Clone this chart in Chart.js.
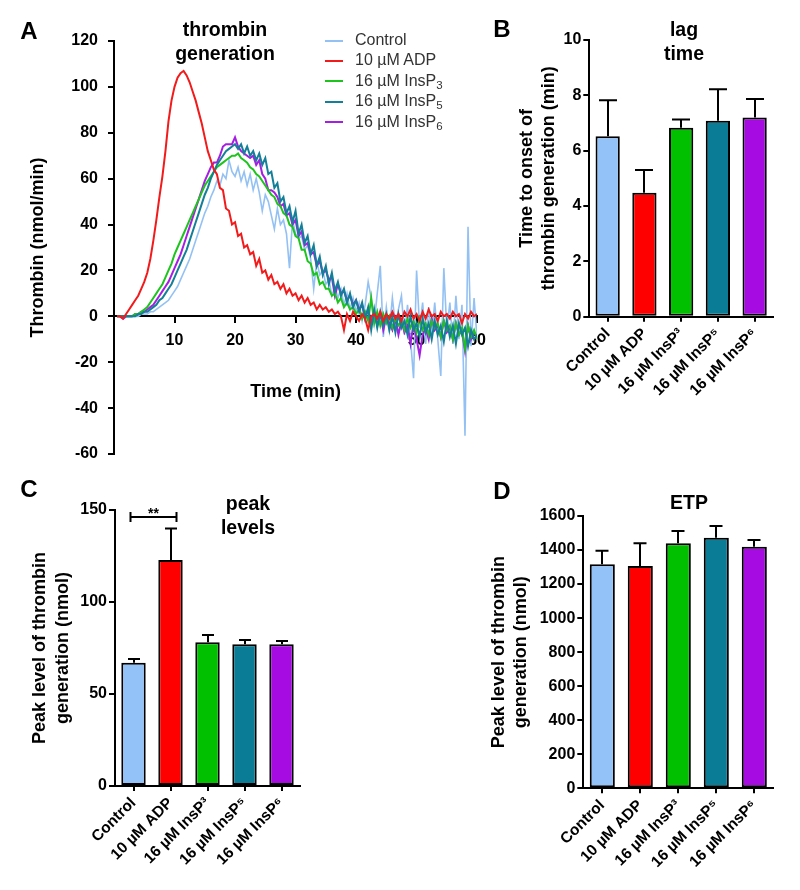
<!DOCTYPE html>
<html>
<head>
<meta charset="utf-8">
<script src="https://cdn.jsdelivr.net/npm/chart.js@4.4.1/dist/chart.umd.min.js"></script>
<style>
  html, body { margin: 0; padding: 0; background: #fff; }
  body { width: 800px; height: 890px; position: relative; overflow: hidden;
         font-family: "Liberation Sans", Arial, Helvetica, sans-serif; color: #000; }
  canvas { position: absolute; }
  .t { position: absolute; font-weight: bold; text-align: center; white-space: nowrap;
       transform: translate(-50%, -50%); }
  .letter { font-size: 24px; line-height: 24px; }
  .title { font-size: 19.5px; line-height: 24px; }
  #legend { position: absolute; left: 325px; top: 30px; font-size: 16px; color: #333; }
  #legend .row { position: relative; height: 20.4px; line-height: 20.4px; white-space: nowrap; }
  #legend .sw { position: absolute; left: 0; top: 9.5px; width: 18px; height: 2px; }
  #legend .tx { position: absolute; left: 30px; top: 0; }
  #legend sub { font-size: 0.72em; vertical-align: -0.3em; line-height: 0; }
</style>
</head>
<body>
<canvas id="cA" width="495" height="550" style="left:0;top:0;width:495px;height:550px"></canvas>
<canvas id="cB" width="320" height="440" style="left:480px;top:0;width:320px;height:440px"></canvas>
<canvas id="cC" width="420" height="430" style="left:0;top:460px;width:420px;height:430px"></canvas>
<canvas id="cD" width="380" height="430" style="left:420px;top:460px;width:380px;height:430px"></canvas>

<div class="t letter" style="left:29px;top:31px">A</div>
<div class="t letter" style="left:502px;top:29px">B</div>
<div class="t letter" style="left:29px;top:489px">C</div>
<div class="t letter" style="left:502px;top:491px">D</div>

<div class="t title" style="left:225px;top:41px">thrombin<br>generation</div>
<div class="t title" style="left:684px;top:41px">lag<br>time</div>
<div class="t title" style="left:248px;top:515px">peak<br>levels</div>
<div class="t title" style="left:689px;top:502px">ETP</div>

<div id="legend"></div>

<script>
// ---------------- DATA ----------------
const seriesNames = ['Control', '10 µM ADP', '16 µM InsP3', '16 µM InsP5', '16 µM InsP6'];
const legendLabels = ['Control', '10 µM ADP', '16 µM InsP<sub>3</sub>', '16 µM InsP<sub>5</sub>', '16 µM InsP<sub>6</sub>'];
const barLabels = ['Control', '10 µM ADP', '16 µM InsP³', '16 µM InsP⁵', '16 µM InsP⁶'];

// Panel A: thrombin generation curves (nmol/min), sampled every 0.5 min from 0.5 to 60 min
const timeStart = 0.5, timeStep = 0.5;
const thrombinControl = [
  0,0,0,0,0,0,0,0,1,1,
  1,2,2,3,4,5,6,7,9,11,
  13,16,19,22,25,29,33,37,41,45,
  48,52,55,59,57,62,60,68,63,61,
  65,59,63,57,62,55,60,54,46,53,
  50,44,38,47,40,42,36,21,42,36,
  34,35,29,31,25,12,24,18,20,14,
  16,9,13,8,12,5,10,3,8,2,
  6,-2,5,15,8,-3,10,22,-9,4,
  -6,8,-4,3,9,-8,5,-10,-27,20,
  -5,6,-12,4,-8,6,-10,-26,21,-6,
  6,-12,9,-10,5,-52,39,-13,8,-10
];
const thrombinADP = [
  0,0,-1,1,3,5,7,9,12,15,
  19,25,33,42,52,61,72,85,94,100,
  104,106,107,105,102,98,94,89,84,78,
  72,68,64,62,56,55,47,46,40,41,
  35,36,30,31,27,28,22,25,19,20,
  16,18,14,15,12,14,10,12,9,10,
  7,9,6,8,5,6,3,5,3,4,
  2,3,1,2,0,-6,1,-2,2,0,
  -2,1,-1,-6,0,1,-1,2,-2,1,
  -1,2,-1,1,-2,2,0,3,-1,1,
  -2,2,-1,3,0,1,-2,2,0,1,
  -1,2,0,1,-3,1,-1,2,0,1
];
const thrombinInsP3 = [
  0,0,0,0,0,0,1,1,2,3,
  4,6,8,10,12,14,17,20,23,27,
  30,33,36,39,42,45,48,51,54,57,
  59,61,63,65,66,67,68,69,70,70,
  71,69,68,67,65,64,62,61,59,57,
  55,53,52,49,48,45,44,40,39,35,
  34,29,29,24,23,18,19,14,15,12,
  12,9,10,6,8,4,6,3,4,1,
  3,-1,2,-2,8,-3,2,-4,1,-3,
  0,-5,-1,-4,-2,-6,-1,-5,-2,-7,
  -1,-6,-3,-8,-2,-5,-3,-9,-2,-6,
  -4,-10,-3,-8,-5,-14,-4,-9,-6,-10
];
const thrombinInsP5 = [
  0,0,0,0,0,0,0,1,1,2,
  2,3,4,5,7,8,10,12,14,17,
  20,23,26,29,33,37,41,45,49,53,
  56,60,63,66,68,70,72,73,74,75,
  73,75,71,74,70,72,68,71,66,69,
  62,63,56,58,50,52,45,48,41,46,
  36,40,32,35,27,31,22,26,18,22,
  14,19,11,15,9,12,6,10,4,7,
  2,6,-1,4,-6,3,-5,2,-4,1,
  -6,0,-7,1,-5,-2,-8,0,-6,-3,
  -9,-1,-7,-3,-10,-2,-8,-4,-11,-2,
  -9,-4,-12,-3,-8,-5,-13,-6,-10,-8
];
const thrombinInsP6 = [
  0,0,-1,0,0,0,1,1,2,2,
  3,4,5,7,9,11,13,15,18,21,
  24,27,31,35,39,43,47,51,55,59,
  62,65,67,67,70,74,75,75,75,78,
  74,72,71,70,69,70,66,68,62,60,
  55,55,54,52,48,49,44,45,40,42,
  35,37,31,32,27,28,22,24,19,20,
  16,17,9,14,10,11,7,9,5,7,
  3,5,-1,3,-3,2,-4,1,-6,0,
  -3,-6,-1,-8,-2,-7,-4,-12,-3,-10,
  -17,-8,-5,-10,-1,-6,-4,-9,-2,-7,
  -5,-10,-3,-8,-6,-15,-4,-10,-7,-9
];
const thrombinSeries = [thrombinControl, thrombinADP, thrombinInsP3, thrombinInsP5, thrombinInsP6];

// Panel B: lag time (min), mean and SEM
const lagTime    = [6.52, 4.48, 6.83, 7.08, 7.20];
const lagTimeErr = [1.30, 0.82, 0.30, 1.14, 0.67];
// Panel C: peak levels (nmol), mean and SEM
const peakLevel    = [67.0, 122.8, 78.1, 77.0, 77.0];
const peakLevelErr = [2.0, 17.2, 3.9, 2.3, 1.8];
// Panel D: ETP (nmol), mean and SEM
const etp    = [1316, 1306, 1440, 1472, 1420];
const etpErr = [80, 134, 72, 69, 39];

// Tick settings
const yTicksA = { min: -60, max: 120, step: 20 };
const xTicksA = { min: 0, max: 60, step: 10 };

// ---------------- STYLE ----------------
const lineColors = ['#93c1f3', '#f21a1a', '#1ec41e', '#137f98', '#a51fe3'];
const lineWidths = [1.6, 2, 2, 2, 2];
const lineOrder  = [5, 1, 3, 2, 4];
const barColors  = ['#93c2f8', '#ff0000', '#00c000', '#0b7c95', '#a60ce2'];

Chart.defaults.font.family = "'Liberation Sans', Arial, Helvetica, sans-serif";
Chart.defaults.color = '#000';

// Legend (HTML) for panel A
const legendEl = document.getElementById('legend');
legendLabels.forEach((lab, k) => {
  const row = document.createElement('div');
  row.className = 'row';
  row.innerHTML = '<span class="sw" style="background:' + lineColors[k] + '"></span><span class="tx">' + lab + '</span>';
  legendEl.appendChild(row);
});

// Error bar plugin (upper SEM only, with cap)
const errorBarPlugin = {
  id: 'errorBars',
  afterDatasetsDraw(chart, args, opts) {
    if (!opts || !opts.err) return;
    const meta = chart.getDatasetMeta(0);
    const ys = chart.scales.y;
    const vals = chart.data.datasets[0].data;
    const ctx = chart.ctx;
    ctx.save();
    ctx.strokeStyle = '#000';
    ctx.lineWidth = 2;
    meta.data.forEach((bar, i) => {
      const top = ys.getPixelForValue(vals[i] + opts.err[i]);
      const x = Math.round(bar.x);
      ctx.beginPath();
      ctx.moveTo(x, bar.y);
      ctx.lineTo(x, top);
      ctx.moveTo(x - opts.cap / 2, top);
      ctx.lineTo(x + opts.cap / 2, top);
      ctx.stroke();
    });
    ctx.restore();
  }
};

// Significance bracket plugin
const bracketPlugin = {
  id: 'sigBracket',
  afterDatasetsDraw(chart, args, opts) {
    if (!opts || opts.text === undefined) return;
    const meta = chart.getDatasetMeta(0);
    const y = Math.round(chart.scales.y.getPixelForValue(opts.value));
    const x0 = meta.data[opts.from].x - 3;
    const x1 = meta.data[opts.to].x + 6;
    const ctx = chart.ctx;
    ctx.save();
    ctx.strokeStyle = '#000';
    ctx.lineWidth = 2;
    ctx.beginPath();
    ctx.moveTo(x0, y); ctx.lineTo(x1, y);
    ctx.moveTo(x0, y - 5); ctx.lineTo(x0, y + 5);
    ctx.moveTo(x1, y - 5); ctx.lineTo(x1, y + 5);
    ctx.stroke();
    ctx.fillStyle = '#000';
    ctx.font = "bold 14px 'Liberation Sans', Arial, sans-serif";
    ctx.textAlign = 'center';
    ctx.textBaseline = 'alphabetic';
    ctx.fillText(opts.text, (x0 + x1) / 2, y + 1);
    ctx.restore();
  }
};

const axisLine = { display: true, color: '#000', width: 2 };
const tickGrid = (len) => ({ drawOnChartArea: false, drawTicks: true, tickLength: len, color: '#000', lineWidth: 2 });

// ---------------- PANEL A ----------------
new Chart(document.getElementById('cA'), {
  type: 'line',
  data: {
    datasets: thrombinSeries.map((s, k) => ({
      label: seriesNames[k],
      data: s.map((v, i) => ({ x: timeStart + i * timeStep, y: v })),
      borderColor: lineColors[k],
      borderWidth: lineWidths[k],
      pointRadius: 0,
      tension: 0,
      fill: false,
      order: lineOrder[k]
    }))
  },
  options: {
    responsive: false, animation: false, devicePixelRatio: 1,
    layout: { padding: { left: 0, right: 13, top: 41, bottom: 96 } },
    plugins: { legend: { display: false }, tooltip: { enabled: false } },
    scales: {
      x: {
        type: 'linear', position: { y: 0 }, min: xTicksA.min, max: xTicksA.max,
        ticks: { stepSize: xTicksA.step, autoSkip: false, maxRotation: 0,
                 callback: (v) => (v === 0 ? '' : v), font: { size: 16, weight: 'bold' }, color: '#000', padding: 9 },
        grid: tickGrid(6), border: axisLine,
        title: { display: true, text: 'Time (min)', font: { size: 18, weight: 'bold' }, color: '#000',
                 padding: { top: 0, bottom: 3.5 } },
        afterFit: (s) => { s.height = 90; }
      },
      y: {
        min: yTicksA.min, max: yTicksA.max,
        ticks: { stepSize: yTicksA.step, font: { size: 16, weight: 'bold' }, color: '#000', padding: 10 },
        grid: tickGrid(6), border: axisLine,
        title: { display: true, text: 'Thrombin (nmol/min)', font: { size: 18, weight: 'bold' }, color: '#000',
                 padding: { top: 27, bottom: 0 } },
        afterFit: (s) => { s.width = 114; }
      }
    }
  }
});

// ---------------- BAR PANELS ----------------
function barPanel(id, values, errs, cfg) {
  return new Chart(document.getElementById(id), {
    type: 'bar',
    data: {
      labels: barLabels,
      datasets: [{
        data: values,
        backgroundColor: barColors,
        borderColor: '#000',
        borderWidth: 2,
        borderSkipped: false,
        barPercentage: 0.66,
        categoryPercentage: 1
      }]
    },
    options: {
      responsive: false, animation: false, devicePixelRatio: 1,
      layout: { padding: cfg.padding },
      plugins: {
        legend: { display: false }, tooltip: { enabled: false },
        errorBars: { err: errs, cap: cfg.cap },
        sigBracket: cfg.bracket || {}
      },
      scales: {
        x: {
          type: 'category', offset: true,
          ticks: { autoSkip: false, minRotation: 45, maxRotation: 45, font: { size: 15.5, weight: 'bold' }, color: '#000', padding: 3 },
          grid: Object.assign(tickGrid(5), { offset: false }), border: axisLine,
          afterFit: (s) => { s.height = 100; }
        },
        y: {
          min: cfg.min, max: cfg.max,
          ticks: { stepSize: cfg.step, font: { size: 16, weight: 'bold' }, color: '#000', padding: 2,
                   callback: (v) => String(v) },
          grid: tickGrid(6), border: axisLine,
          title: { display: true, text: cfg.title, font: { size: 18, weight: 'bold', lineHeight: 1.25 }, color: '#000',
                   padding: { top: cfg.titlePad, bottom: 0 } },
          afterFit: (s) => { s.width = cfg.yWidth; }
        }
      }
    },
    plugins: [errorBarPlugin, bracketPlugin]
  });
}

barPanel('cB', lagTime, lagTimeErr, {
  min: 0, max: 10, step: 2, cap: 18, yWidth: 109.3, titlePad: 35.5,
  title: ['Time to onset of', 'thrombin generation (min)'],
  padding: { left: 0, top: 40, right: 27, bottom: 23.3 }
});
barPanel('cC', peakLevel, peakLevelErr, {
  min: 0, max: 150, step: 50, cap: 12, yWidth: 115, titlePad: 29,
  title: ['Peak level of thrombin', 'generation (nmol)'],
  padding: { left: 0, top: 50, right: 120, bottom: 4 },
  bracket: { from: 0, to: 1, value: 146, text: '**' }
});
barPanel('cD', etp, etpErr, {
  min: 0, max: 1600, step: 200, cap: 13, yWidth: 163.3, titlePad: 67.5,
  title: ['Peak level of thrombin', 'generation (nmol)'],
  padding: { left: 0, top: 56, right: 26.7, bottom: 1.7 }
});
</script>
</body>
</html>
